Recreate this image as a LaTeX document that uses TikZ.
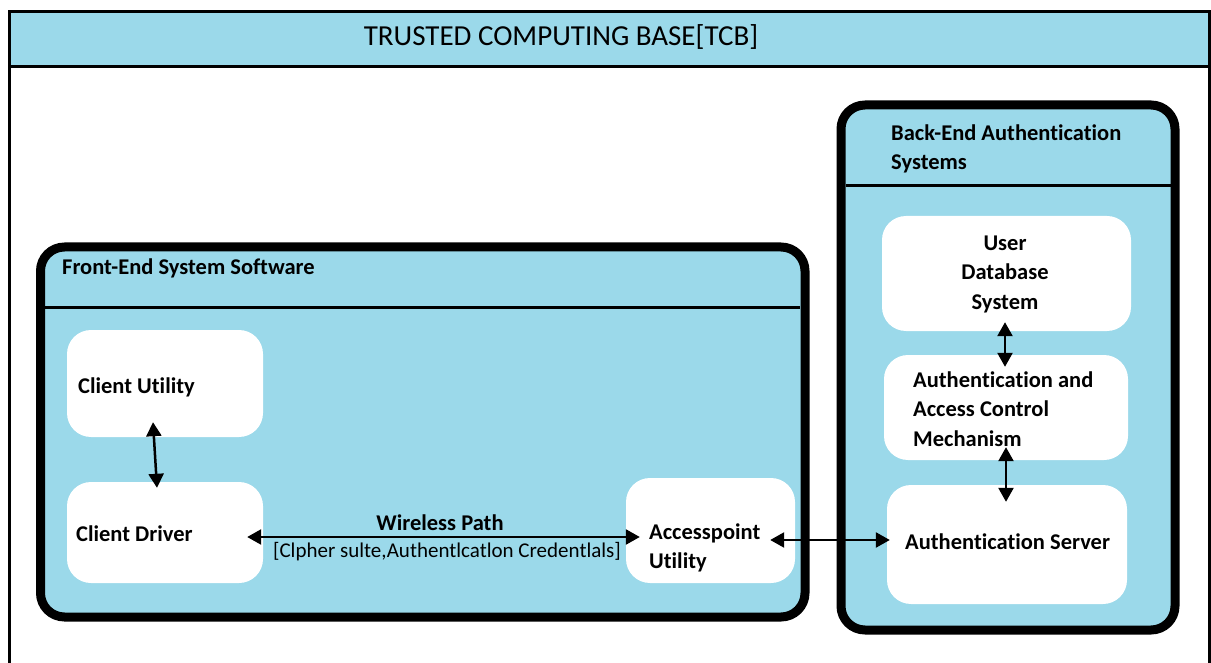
\documentclass[tikz,border=0pt]{standalone}
\usepackage{fontspec}
\setmainfont[Ligatures={NoCommon}]{Carlito}
\usetikzlibrary{arrows.meta,calc}
\definecolor{tcbblue}{HTML}{9BD9EA}
\tikzset{
  wbox/.style={fill=white,draw=none,rounded corners=24pt,inner sep=0pt},
  lbl/.style={font=\fontsize{22.5}{29.5}\selectfont\bfseries,inner sep=0pt,align=left},
  clbl/.style={font=\fontsize{22.5}{29.5}\selectfont\bfseries,inner sep=0pt,align=center},
  frame/.style={draw=black,line width=9pt,fill=tcbblue,rounded corners=24pt},
  sep/.style={draw=black,line width=3pt},
  biarrow/.style={line width=2.5pt,{Triangle[length=14pt,width=15pt]}-{Triangle[length=14pt,width=15pt]}}
}
\begin{document}
\begin{tikzpicture}[x=1pt,y=-1pt]
\useasboundingbox (0,0) rectangle (1211,663);
% outer frame
\fill[tcbblue] (9,12) rectangle (1209,67);
\draw[line width=3pt] (9,663) -- (9,12) -- (1209,12) -- (1209,663);
\draw[sep] (9,67) -- (1209,67);
\node[font=\fontsize{29}{32}\selectfont,inner sep=0pt] (title) at (561,37) {TRUSTED COMPUTING BASE[TCB]};
% front-end frame
\draw[frame] (40.5,247) rectangle (805,617);
\draw[sep] (45,308) -- (800,308);
\node[lbl,anchor=west] (fehead) at (62,268) {Front-End System Software};
% back-end frame
\draw[frame] (841,105) rectangle (1175,630);
\draw[sep] (845.5,186) -- (1170.5,186);
\node[lbl,anchor=west] (behead) at (891,149) {Back-End Authentication\\Systems};
% white boxes
\node[wbox,minimum width=196pt,minimum height=107pt] (cu) at (165,383.5) {};
\node[wbox,minimum width=196pt,minimum height=101pt] (cd) at (165,532.5) {};
\node[wbox,minimum width=169pt,minimum height=105pt] (ap) at (710.5,530.5) {};
\node[wbox,minimum width=249pt,minimum height=115pt] (udb) at (1006.5,273.5) {};
\node[wbox,minimum width=244pt,minimum height=105pt] (aacm) at (1006,407.5) {};
\node[wbox,minimum width=240pt,minimum height=119pt] (as) at (1007,544.5) {};
% texts
\node[lbl,anchor=west] (cut) at (78,387) {Client Utility};
\node[lbl,anchor=west] (cdt) at (76,534) {Client Driver};
\node[lbl,anchor=west] (apt) at (649,548) {Accesspoint\\Utility};
\node[clbl] (udbt) at (1005,274) {User\\Database\\System};
\node[lbl,anchor=west] (aacmt) at (913,409) {Authentication and\\Access Control\\Mechanism};
\node[lbl,anchor=west] (ast) at (905,542) {Authentication Server};
\node[clbl] (wp) at (440,523) {Wireless Path};
\node[font=\fontsize{21}{24}\selectfont,inner sep=0pt] (wpc) at (447,552) {[Clpher sulte,Authentlcatlon Credentlals]};
% connectors
\draw[biarrow] ($(cu.south)+(-12,-15)$) -- ($(cd.north)+(-8,6)$);
\draw[biarrow] ($(cd.east)+(-16,4.5)$) -- ($(ap.west)+(14,6.5)$);
\draw[biarrow] ($(ap.east)+(-25,9.5)$) -- ($(as.west)+(3,-4.5)$);
\draw[biarrow] ($(udb.south)+(-1.5,-9)$) -- ($(aacm.north)+(-1,12)$);
\draw[biarrow] ($(aacm.south)+(0,-13)$) -- ($(as.north)+(-1,17)$);
\end{tikzpicture}
\end{document}
